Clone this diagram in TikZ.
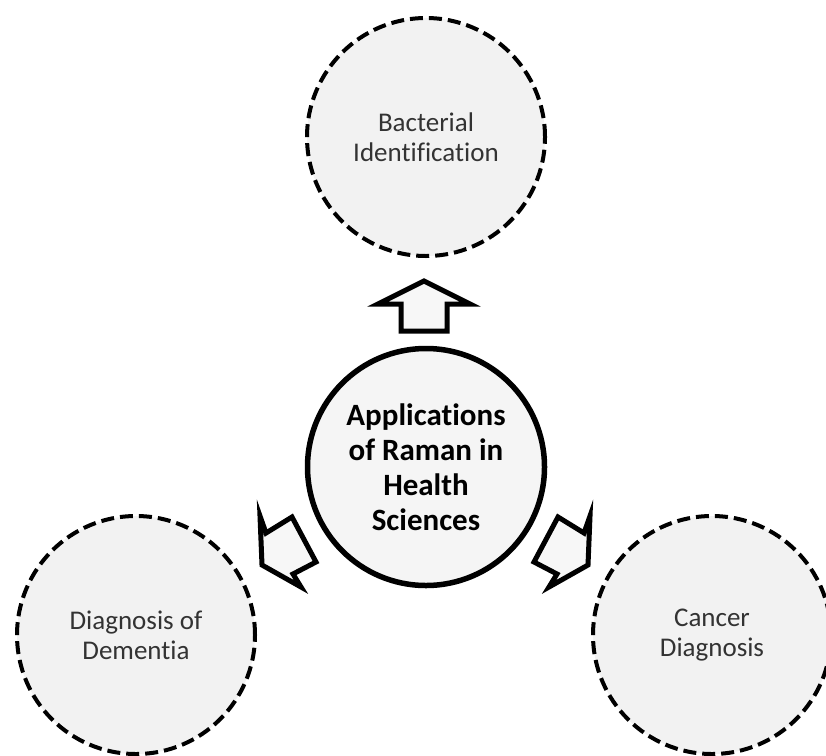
\documentclass[tikz,border=0pt]{standalone}
\usepackage{fontspec}
\setmainfont{Carlito}[Ligatures=NoCommon]
\usepackage{tikz}

\begin{document}
\begin{tikzpicture}[x=1pt,y=-1pt,
  hub/.style={circle,draw,line width=5.5pt,fill=black!4,minimum size=237pt,inner sep=0pt,
    align=center,font=\bfseries\fontsize{31}{35}\selectfont},
  topic/.style={circle,draw,dashed,dash pattern=on 13pt off 6pt,line width=4pt,fill=black!5,
    minimum size=238pt,inner sep=0pt,align=center,text=black!80,font=\fontsize{27}{30}\selectfont},
  blockarrow/.style={draw,line width=5pt,fill=black!3,line join=miter}]
\useasboundingbox (0,0) rectangle (826,755);
\node[hub](raman) at (426,467){Applications\\of Raman in\\Health\\Sciences};
\node[topic](bact) at (426,137){Bacterial\\Identification};
\node[topic](dem) at (136,635){Diagnosis of\\Dementia};
\node[topic](canc) at (712,635){Cancer\\Diagnosis};
% block arrows
\draw[blockarrow] (424,281) -- (470,304) -- (447,304) -- (447,331) -- (401,331) -- (401,304) -- (378,304) -- cycle;
\draw[blockarrow] (260,516) -- (266,533) -- (292,517) -- (316,562) -- (293,574) -- (301,587) -- (262,565) -- cycle;
\draw[blockarrow] (590,516) -- (584,533) -- (558,517) -- (534,562) -- (557,574) -- (549,587) -- (588,565) -- cycle;
\end{tikzpicture}
\end{document}
